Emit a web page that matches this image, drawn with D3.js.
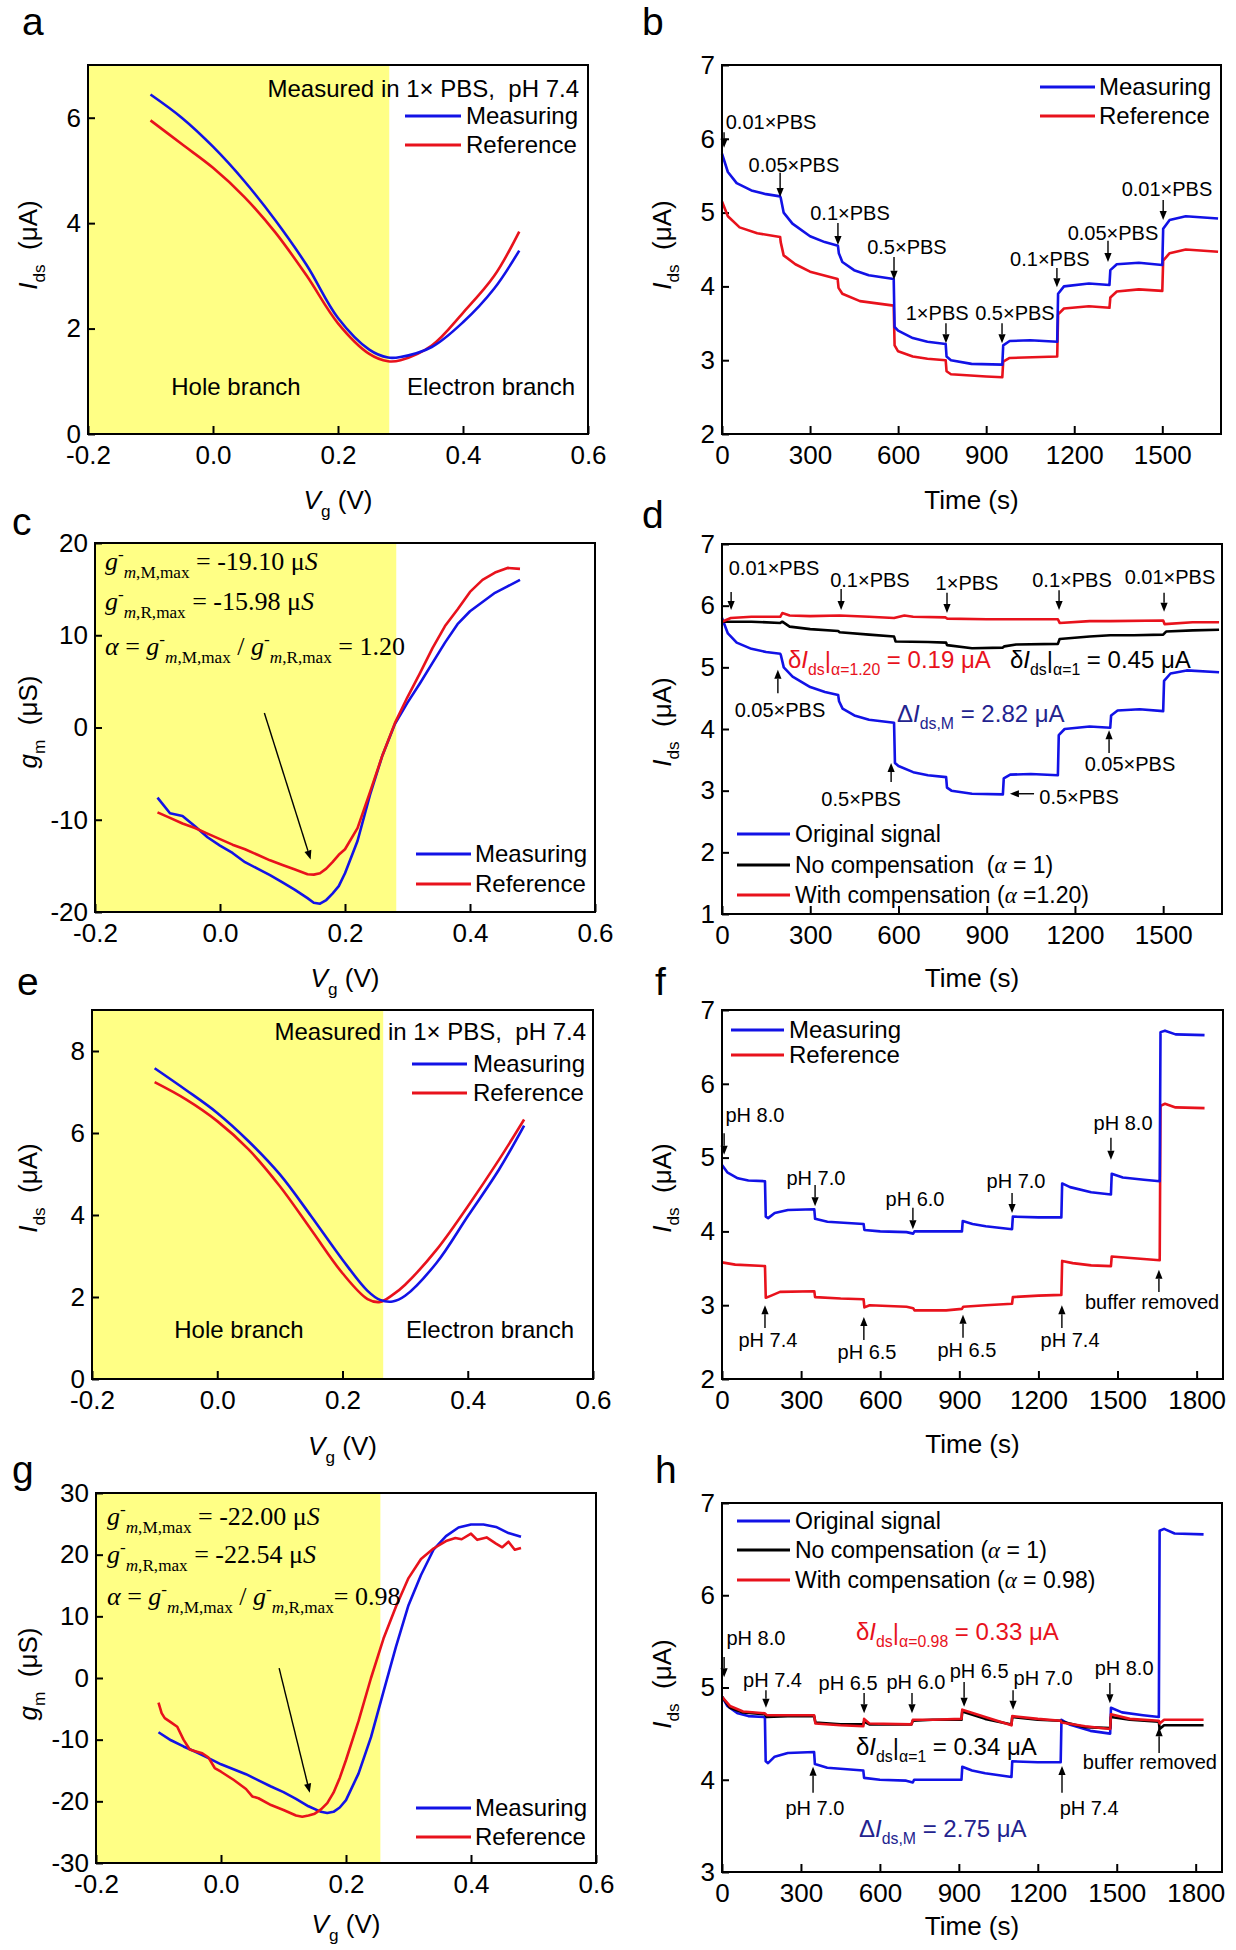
<!DOCTYPE html>
<html><head><meta charset="utf-8">
<script src="https://cdn.jsdelivr.net/npm/d3@7"></script>
<style>body{margin:0;background:#fff} svg{display:block} text{white-space:pre}</style>
</head><body><svg id="fig" width="1236" height="1950"></svg>
<script>
// ---------------- DATA ----------------
// Panel a: transfer curves (Vg in V, Ids in uA)
const aVg   = [-0.10,-0.05,0.00,0.05,0.10,0.15,0.20,0.25,0.28,0.30,0.35,0.40,0.45,0.49];
const aMeas = [6.44,6.00,5.45,4.80,4.05,3.20,2.20,1.60,1.45,1.46,1.65,2.12,2.76,3.48];
const aRef  = [5.95,5.50,5.05,4.50,3.82,3.00,2.10,1.52,1.38,1.40,1.68,2.30,3.00,3.84];

// Panel b: time traces (s, uA)
const bTimeM = [0,20,50,100,150,198,200,210,240,300,350,395,398,410,450,500,585,588,600,650,700,762,765,780,850,955,958,980,1050,1142,1145,1165,1250,1320,1323,1345,1420,1500,1503,1525,1580,1690];
const bMeas  = [5.80,5.55,5.40,5.30,5.25,5.22,5.20,5.00,4.85,4.68,4.60,4.55,4.45,4.33,4.22,4.15,4.10,3.45,3.40,3.30,3.25,3.22,3.05,3.00,2.95,2.94,3.20,3.26,3.27,3.25,3.90,4.00,4.04,4.02,4.22,4.30,4.32,4.29,4.78,4.90,4.95,4.92];
const bTimeR = [0,20,60,120,198,200,210,250,300,394,397,410,470,585,588,600,650,700,762,765,780,900,955,958,980,1142,1145,1165,1250,1320,1323,1345,1420,1500,1503,1525,1580,1690];
const bRef   = [5.15,4.95,4.80,4.72,4.67,4.60,4.42,4.30,4.20,4.10,3.98,3.90,3.80,3.74,3.20,3.12,3.05,3.02,3.00,2.85,2.81,2.78,2.77,2.98,3.03,3.05,3.62,3.70,3.73,3.71,3.85,3.93,3.96,3.94,4.35,4.45,4.50,4.47];

// Panel c: transconductance (Vg, gm in uS)
const cVg   = [-0.10,-0.08,-0.06,-0.04,-0.02,0.00,0.02,0.04,0.06,0.08,0.10,0.12,0.14,0.15,0.16,0.17,0.18,0.19,0.20,0.22,0.24,0.26,0.28,0.30,0.32,0.34,0.36,0.38,0.40,0.42,0.44,0.46,0.48];
const cMeas = [-7.6,-9.3,-9.6,-10.7,-11.9,-12.8,-13.6,-14.6,-15.3,-16.0,-16.8,-17.6,-18.5,-19.0,-19.1,-18.7,-18.0,-17.2,-15.8,-12.3,-7.3,-3.0,0.4,2.7,4.8,7.0,9.2,11.2,12.6,13.6,14.6,15.3,16.0];
const cRef  = [-9.2,-9.8,-10.4,-10.9,-11.5,-12.1,-12.7,-13.2,-13.8,-14.4,-14.9,-15.4,-15.9,-15.95,-15.8,-15.3,-14.6,-13.8,-13.2,-10.9,-7.0,-3.0,0.5,3.3,5.9,8.6,11.0,12.8,14.7,16.0,16.8,17.3,17.2];

// Panel d: compensation (s, uA)
const dTimeK  = [0,100,198,205,230,300,395,400,500,585,590,700,762,765,850,955,960,1000,1142,1148,1250,1320,1400,1500,1510,1600,1690];
const dNoComp = [5.74,5.74,5.72,5.74,5.66,5.62,5.59,5.57,5.53,5.50,5.42,5.41,5.40,5.36,5.31,5.32,5.34,5.37,5.38,5.46,5.50,5.52,5.52,5.53,5.58,5.60,5.61];
const dTimeC  = [0,30,100,198,205,230,300,400,500,585,620,650,760,765,900,1000,1142,1148,1250,1320,1500,1505,1600,1690];
const dComp   = [5.74,5.80,5.82,5.82,5.88,5.84,5.83,5.84,5.82,5.80,5.84,5.82,5.81,5.79,5.78,5.78,5.78,5.72,5.75,5.75,5.76,5.70,5.73,5.73];

// Panel e: transfer curves (second device)
const eVg   = [-0.10,-0.05,0.00,0.05,0.10,0.15,0.20,0.24,0.26,0.28,0.30,0.35,0.40,0.45,0.49];
const eMeas = [7.58,7.05,6.49,5.80,4.99,3.97,2.91,2.15,1.93,1.89,2.03,2.83,3.97,5.11,6.18];
const eRef  = [7.24,6.82,6.29,5.60,4.70,3.64,2.58,1.95,1.88,2.05,2.30,3.15,4.21,5.35,6.33];

// Panel f: pH time traces
const fTimeM = [0,20,60,100,163,166,175,200,250,350,353,400,537,540,600,700,725,730,910,913,950,1000,1100,1103,1200,1287,1290,1320,1400,1475,1478,1520,1600,1660,1663,1680,1720,1830];
const fMeas  = [4.90,4.80,4.72,4.69,4.68,4.20,4.18,4.25,4.29,4.30,4.17,4.13,4.10,4.02,4.00,3.99,3.97,4.00,4.00,4.14,4.10,4.07,4.03,4.20,4.19,4.19,4.65,4.60,4.53,4.50,4.78,4.73,4.70,4.68,6.70,6.72,6.67,6.66];
const fTimeR = [0,50,163,166,180,220,350,353,450,537,540,560,700,725,730,850,910,915,1000,1100,1103,1200,1287,1290,1330,1400,1475,1478,1550,1660,1663,1680,1720,1830];
const fRef   = [3.58,3.55,3.53,3.10,3.12,3.18,3.19,3.11,3.09,3.08,2.97,3.00,2.98,2.96,2.93,2.93,2.95,2.98,3.00,3.02,3.11,3.13,3.14,3.60,3.57,3.54,3.53,3.66,3.64,3.61,5.70,5.73,5.68,5.67];

// Panel g: transconductance (second device)
const gVg    = [-0.10,-0.08,-0.06,-0.04,-0.02,0.00,0.02,0.04,0.06,0.08,0.10,0.12,0.14,0.16,0.17,0.18,0.19,0.20,0.22,0.24,0.26,0.28,0.30,0.32,0.34,0.36,0.38,0.40,0.42,0.44,0.46,0.48];
const gMeas  = [-8.8,-10.1,-11.1,-12.0,-13.0,-14.0,-14.8,-15.6,-16.6,-17.6,-18.5,-19.6,-20.8,-21.7,-21.9,-21.7,-21.0,-19.8,-15.5,-9.6,-2.2,5.1,11.8,16.7,20.8,23.0,24.4,24.9,24.9,24.5,23.5,22.9];
const gRefVg = [-0.100,-0.095,-0.090,-0.080,-0.070,-0.060,-0.050,-0.040,-0.030,-0.020,-0.010,0.000,0.020,0.040,0.050,0.060,0.080,0.100,0.120,0.130,0.140,0.150,0.160,0.170,0.180,0.190,0.200,0.220,0.240,0.260,0.280,0.300,0.320,0.340,0.360,0.375,0.385,0.400,0.410,0.425,0.440,0.450,0.460,0.470,0.480];
const gRef   = [-4.0,-5.7,-6.5,-7.2,-7.9,-10.0,-11.6,-11.9,-12.2,-12.9,-14.6,-15.2,-16.5,-18.0,-19.2,-19.5,-20.6,-21.4,-22.3,-22.5,-22.3,-22.0,-21.3,-20.3,-18.6,-16.2,-13.3,-7.0,0.0,6.4,11.6,16.2,19.3,21.0,22.2,22.7,22.5,23.4,22.4,22.8,21.8,21.2,22.1,20.8,21.1];

// Panel h: pH compensation (same time base for both compensated traces)
const hTime   = [0,30,80,163,170,250,350,355,450,537,540,560,720,725,800,910,913,1000,1100,1103,1200,1287,1290,1380,1475,1478,1550,1660,1663,1680,1830];
const hNoComp = [4.90,4.78,4.73,4.71,4.68,4.69,4.69,4.62,4.60,4.60,4.63,4.60,4.60,4.64,4.65,4.65,4.74,4.66,4.60,4.68,4.65,4.64,4.63,4.57,4.56,4.68,4.65,4.63,4.55,4.59,4.59];
const hComp   = [4.90,4.80,4.74,4.72,4.70,4.70,4.70,4.61,4.59,4.58,4.66,4.61,4.60,4.65,4.65,4.66,4.76,4.68,4.59,4.69,4.66,4.64,4.62,4.58,4.55,4.71,4.66,4.64,4.61,4.65,4.65];

// Tick values
const vgTicks = [-0.2,0.0,0.2,0.4,0.6];
const t1500Ticks = [0,300,600,900,1200,1500];
const t1800Ticks = [0,300,600,900,1200,1500,1800];

// Annotation labels: [text, labelT, labelI, arrowT, arrowFromI, arrowToI]
const bNotes = [["0.01×PBS",167,6.23,7,6.09,5.88],["0.05×PBS",245,5.64,198,5.54,5.21],["0.1×PBS",436,4.99,395,4.86,4.56],
  ["0.5×PBS",630,4.53,586,4.40,4.09],["1×PBS",733,3.64,763,3.50,3.23],["0.5×PBS",998,3.64,954,3.50,3.23],
  ["0.1×PBS",1117,4.37,1141,4.25,3.99],["0.05×PBS",1332,4.72,1315,4.62,4.33],["0.01×PBS",1516,5.32,1503,5.17,4.90]];
const dNotes = [["0.01×PBS",177,6.61,31,6.22,5.93],["0.1×PBS",503,6.42,405,6.27,5.93],["1×PBS",833,6.37,765,6.21,5.88],
  ["0.1×PBS",1190,6.42,1146,6.25,5.93],["0.01×PBS",1523,6.46,1503,6.21,5.90],["0.05×PBS",197,4.31,190,4.58,4.96],
  ["0.5×PBS",473,2.87,575,3.14,3.45],["0.05×PBS",1387,3.43,1316,3.61,3.98]];
const fNotes = [["pH 8.0",125,5.58,8,5.33,5.04],["pH 7.0",356,4.72,353,4.63,4.34],["pH 6.0",732,4.44,724,4.32,4.03],
  ["pH 7.0",1115,4.68,1100,4.52,4.25],["pH 8.0",1521,5.47,1475,5.27,4.97],["pH 7.4",174,2.53,163,2.69,3.00],
  ["pH 6.5",550,2.37,538,2.53,2.84],["pH 6.5",929,2.39,914,2.56,2.87],["pH 7.4",1320,2.53,1289,2.69,3.00],
  ["buffer removed",1631,3.04,1657,3.18,3.48]];
const hNotes = [["pH 8.0",129,5.54,8,5.33,5.11],["pH 7.4",192,5.08,167,4.97,4.78],["pH 6.5",479,5.05,540,4.94,4.72],
  ["pH 6.0",737,5.06,722,4.94,4.72],["pH 6.5",977,5.18,920,5.06,4.79],["pH 7.0",1220,5.10,1106,4.97,4.76],
  ["pH 8.0",1528,5.21,1474,5.05,4.83],["pH 7.0",353,3.69,346,3.86,4.14],["pH 7.4",1395,3.69,1292,3.86,4.15],
  ["buffer removed",1626,4.19,1661,4.29,4.57]];

// ---------------- DRAWING ----------------
const SANS = "'Liberation Sans', Arial, Helvetica, sans-serif";
const SERIF = "'Liberation Serif', 'Times New Roman', serif";
const BLUE = "#1212e6", RED = "#e8121c", BLACK = "#000", NAVY = "#23238f", YEL = "#ffff85";

const svg = d3.select("#fig");
svg.append("rect").attr("width",1236).attr("height",1950).attr("fill","#fff");
const loc = d3.formatLocale({decimal:".", thousands:",", grouping:[3], currency:["",""], minus:"-"});
const f1 = loc.format(".1f"), f0 = loc.format("d");

function rich(t, segs, base) {
  let shift = 0;
  segs.forEach(s => {
    const target = s.sub ? base*0.3 : (s.sup ? -base*0.38 : 0);
    const ts = t.append("tspan").text(s.t)
      .attr("dy", (target - shift).toFixed(1))
      .style("font-size", ((s.sub||s.sup) ? base*0.66 : base) + "px");
    if (s.i) ts.style("font-style","italic");
    if (s.f) ts.style("font-family", s.f);
    shift = target;
  });
  return t;
}
function addText(parent, x, y, segs, base, opts={}) {
  const t = parent.append("text").attr("x",x).attr("y",y)
    .style("font-family", opts.family||SANS).style("font-size", base+"px")
    .attr("fill", opts.color||"#000").attr("text-anchor", opts.anchor||"start");
  if (opts.transform) t.attr("transform", opts.transform);
  if (opts.central) t.attr("dominant-baseline","central");
  if (typeof segs === "string") t.text(segs); else rich(t, segs, base);
  return t;
}
function arrow(g, x1, y1, x2, y2) {
  const a = Math.atan2(y2-y1, x2-x1), len = 9, w = 3.6;
  const bx = x2 - len*Math.cos(a), by = y2 - len*Math.sin(a);
  const px = -Math.sin(a)*w, py = Math.cos(a)*w;
  g.append("line").attr("x1",x1).attr("y1",y1).attr("x2",bx).attr("y2",by).attr("stroke","#000").attr("stroke-width",1.4);
  g.append("path").attr("d",`M${x2},${y2}L${bx+px},${by+py}L${bx-px},${by-py}Z`).attr("fill","#000");
}

function panel(o) {
  const g = svg.append("g");
  const x = d3.scaleLinear().domain(o.xDomain).range([o.L,o.R]);
  const y = d3.scaleLinear().domain(o.yDomain).range([o.B,o.T]);
  if (o.shade != null) g.append("rect").attr("x",o.L).attr("y",o.T)
      .attr("width",x(o.shade)-o.L).attr("height",o.B-o.T).attr("fill",YEL);
  const ax = g.append("g").attr("transform",`translate(0,${o.B})`)
    .call(d3.axisBottom(x).tickValues(o.xTicks).tickFormat(o.xFmt).tickSize(-8).tickPadding(12));
  const ay = g.append("g").attr("transform",`translate(${o.L},0)`)
    .call(d3.axisLeft(y).tickValues(o.yTicks).tickFormat(o.yFmt||f0).tickSize(-7).tickPadding(7));
  [ax,ay].forEach(a => {
    a.select(".domain").remove();
    a.attr("font-size",null).attr("font-family",null);
    a.selectAll("text").style("font-size","26px").style("font-family",SANS).attr("fill","#000");
    a.selectAll("line").attr("stroke","#000").attr("stroke-width",2);
  });
  const pg = g.append("g");
  o.series.forEach(s => {
    const pts = s.x.map((v,i) => [v, s.y[i]]);
    pg.append("path").datum(pts)
      .attr("d", d3.line().x(d=>x(d[0])).y(d=>y(d[1])).curve(s.curve||d3.curveLinear))
      .attr("fill","none").attr("stroke",s.color).attr("stroke-width",2.6).attr("stroke-linejoin","round");
  });
  g.append("rect").attr("x",o.L).attr("y",o.T).attr("width",o.R-o.L).attr("height",o.B-o.T)
    .attr("fill","none").attr("stroke","#000").attr("stroke-width",2);
  addText(svg, o.letter[1], o.letter[2], o.letter[0], 39);
  addText(svg, 0, 9, o.yLabel, 26, {anchor:"middle", transform:`translate(${o.yLabelPos[0]},${o.yLabelPos[1]}) rotate(-90)`});
  addText(svg, (o.L+o.R)/2, o.xLabelY, o.xLabel, 26, {anchor:"middle"});
  return {g, x, y, o};
}
function legend(p, items, lx1, lx2, tx, ys, size) {
  items.forEach((it, i) => {
    const yy = p.o.T + ys[i];
    p.g.append("line").attr("x1",p.o.L+lx1).attr("x2",p.o.L+lx2).attr("y1",yy).attr("y2",yy)
      .attr("stroke",it.color).attr("stroke-width",3.2);
    addText(p.g, p.o.L+tx, yy+8, it.segs, size||24);
  });
}
function notes(p, list) {
  list.forEach(n => {
    addText(p.g, p.x(n[1]), p.y(n[2]), n[0], 20, {anchor:"middle", central:true});
    arrow(p.g, p.x(n[3]), p.y(n[4]), p.x(n[3]), p.y(n[5]));
  });
}
const IdsLbl = [{t:"I",i:1},{t:"ds",sub:1},{t:"  (μA)"}];
const gmLbl = [{t:"g",i:1},{t:"m",sub:1},{t:"  (μS)"}];
const VgLbl = [{t:"V",i:1},{t:"g",sub:1},{t:" (V)"}];
const TimeLbl = "Time (s)";
const gMax = (k) => [{t:"g",i:1},{t:"-",sup:1},{t:"m",sub:1,i:1},{t:","+k+",max",sub:1}];

// ---- a ----
const pa = panel({L:88,R:588,T:65,B:434, xDomain:[-0.2,0.6], yDomain:[0,7], xTicks:vgTicks, xFmt:f1, yTicks:[0,2,4,6],
  shade:0.282, series:[{x:aVg,y:aRef,color:RED,curve:d3.curveCatmullRom},{x:aVg,y:aMeas,color:BLUE,curve:d3.curveCatmullRom}],
  letter:["a",22,35], yLabel:IdsLbl, yLabelPos:[28,245], xLabel:VgLbl, xLabelY:509});
addText(pa.g, pa.o.L+491, pa.o.T+32, "Measured in 1× PBS,  pH 7.4", 24, {anchor:"end"});
legend(pa, [{color:BLUE,segs:"Measuring"},{color:RED,segs:"Reference"}], 317, 373, 378, [51,80]);
addText(pa.g, pa.o.L+148, pa.o.T+330, "Hole branch", 24, {anchor:"middle"});
addText(pa.g, pa.o.L+403, pa.o.T+330, "Electron branch", 24, {anchor:"middle"});

// ---- b ----
const pb = panel({L:722,R:1221,T:65,B:434, xDomain:[0,1700], yDomain:[2,7], xTicks:t1500Ticks, xFmt:f0, yTicks:[2,3,4,5,6,7],
  series:[{x:bTimeR,y:bRef,color:RED},{x:bTimeM,y:bMeas,color:BLUE}],
  letter:["b",642,35], yLabel:IdsLbl, yLabelPos:[662,245], xLabel:TimeLbl, xLabelY:509});
legend(pb, [{color:BLUE,segs:"Measuring"},{color:RED,segs:"Reference"}], 318, 373, 377, [22,51]);
notes(pb, bNotes);

// ---- c ----
const pc = panel({L:95,R:595,T:543,B:912, xDomain:[-0.2,0.6], yDomain:[-20,20], xTicks:vgTicks, xFmt:f1, yTicks:[-20,-10,0,10,20],
  shade:0.282, series:[{x:cVg,y:cMeas,color:BLUE},{x:cVg,y:cRef,color:RED}],
  letter:["c",12,535], yLabel:gmLbl, yLabelPos:[28,722], xLabel:VgLbl, xLabelY:987});
addText(pc.g, pc.o.L+10, pc.o.T+27, [...gMax("M"),{t:" = -19.10 μ"},{t:"S",i:1}], 26, {family:SERIF});
addText(pc.g, pc.o.L+10, pc.o.T+67, [...gMax("R"),{t:" = -15.98 μ"},{t:"S",i:1}], 26, {family:SERIF});
addText(pc.g, pc.o.L+10, pc.o.T+112, [{t:"α",i:1},{t:" = "},...gMax("M"),{t:" / "},...gMax("R"),{t:" = 1.20"}], 26, {family:SERIF});
arrow(pc.g, pc.x(0.071), pc.y(1.57), pc.x(0.145), pc.y(-14.3));
legend(pc, [{color:BLUE,segs:"Measuring"},{color:RED,segs:"Reference"}], 321, 376, 380, [311,341]);

// ---- d ----
const pd = panel({L:722,R:1222,T:544,B:914, xDomain:[0,1700], yDomain:[1,7], xTicks:t1500Ticks, xFmt:f0, yTicks:[1,2,3,4,5,6,7],
  series:[{x:bTimeM,y:bMeas,color:BLUE},{x:dTimeK,y:dNoComp,color:BLACK},{x:dTimeC,y:dComp,color:RED}],
  letter:["d",642,528], yLabel:IdsLbl, yLabelPos:[662,722], xLabel:TimeLbl, xLabelY:987});
notes(pd, dNotes);
addText(pd.g, pd.x(1214), pd.y(2.90), "0.5×PBS", 20, {anchor:"middle", central:true});
arrow(pd.g, pd.x(1061), pd.y(2.95), pd.x(979), pd.y(2.95));
addText(pd.g, pd.o.L+66, pd.o.T+124, [{t:"δ"},{t:"I",i:1},{t:"ds",sub:1},{t:"|"},{t:"α=1.20",sub:1},{t:" = 0.19 μA"}], 24, {color:RED});
addText(pd.g, pd.o.L+288, pd.o.T+124, [{t:"δ"},{t:"I",i:1},{t:"ds",sub:1},{t:"|"},{t:"α=1",sub:1},{t:" = 0.45 μA"}], 24);
addText(pd.g, pd.o.L+175, pd.o.T+178, [{t:"Δ"},{t:"I",i:1},{t:"ds,M",sub:1},{t:" = 2.82 μA"}], 24, {color:NAVY});
legend(pd, [{color:BLUE,segs:"Original signal"},
  {color:BLACK,segs:[{t:"No compensation  ("},{t:"α",i:1,f:SERIF},{t:" = 1)"}]},
  {color:RED,segs:[{t:"With compensation ("},{t:"α",i:1,f:SERIF},{t:" =1.20)"}]}], 15, 68, 73, [290,321,351], 23);

// ---- e ----
const pe = panel({L:92,R:593,T:1010,B:1379, xDomain:[-0.2,0.6], yDomain:[0,9], xTicks:vgTicks, xFmt:f1, yTicks:[0,2,4,6,8],
  shade:0.265, series:[{x:eVg,y:eRef,color:RED,curve:d3.curveCatmullRom},{x:eVg,y:eMeas,color:BLUE,curve:d3.curveCatmullRom}],
  letter:["e",17,995], yLabel:IdsLbl, yLabelPos:[28,1188], xLabel:VgLbl, xLabelY:1455});
addText(pe.g, pe.o.L+494, pe.o.T+30, "Measured in 1× PBS,  pH 7.4", 24, {anchor:"end"});
legend(pe, [{color:BLUE,segs:"Measuring"},{color:RED,segs:"Reference"}], 320, 375, 381, [54,83]);
addText(pe.g, pe.o.L+147, pe.o.T+328, "Hole branch", 24, {anchor:"middle"});
addText(pe.g, pe.o.L+398, pe.o.T+328, "Electron branch", 24, {anchor:"middle"});

// ---- f ----
const pf = panel({L:722,R:1223,T:1010,B:1379, xDomain:[0,1900], yDomain:[2,7], xTicks:t1800Ticks, xFmt:f0, yTicks:[2,3,4,5,6,7],
  series:[{x:fTimeR,y:fRef,color:RED},{x:fTimeM,y:fMeas,color:BLUE}],
  letter:["f",655,995], yLabel:IdsLbl, yLabelPos:[662,1188], xLabel:TimeLbl, xLabelY:1453});
legend(pf, [{color:BLUE,segs:"Measuring"},{color:RED,segs:"Reference"}], 9, 62, 67, [20,45]);
notes(pf, fNotes);

// ---- g ----
const pg7 = panel({L:96,R:596,T:1493,B:1863, xDomain:[-0.2,0.6], yDomain:[-30,30], xTicks:vgTicks, xFmt:f1, yTicks:[-30,-20,-10,0,10,20,30],
  shade:0.255, series:[{x:gVg,y:gMeas,color:BLUE},{x:gRefVg,y:gRef,color:RED}],
  letter:["g",12,1483], yLabel:gmLbl, yLabelPos:[28,1674], xLabel:VgLbl, xLabelY:1933});
addText(pg7.g, pg7.o.L+11, pg7.o.T+32, [...gMax("M"),{t:" = -22.00 μ"},{t:"S",i:1}], 26, {family:SERIF});
addText(pg7.g, pg7.o.L+11, pg7.o.T+70, [...gMax("R"),{t:" = -22.54 μ"},{t:"S",i:1}], 26, {family:SERIF});
addText(pg7.g, pg7.o.L+11, pg7.o.T+112, [{t:"α",i:1},{t:" = "},...gMax("M"),{t:" / "},...gMax("R"),{t:"= 0.98"}], 26, {family:SERIF});
arrow(pg7.g, pg7.x(0.093), pg7.y(1.6), pg7.x(0.142), pg7.y(-18.6));
legend(pg7, [{color:BLUE,segs:"Measuring"},{color:RED,segs:"Reference"}], 320, 375, 379, [315,344]);

// ---- h ----
const ph = panel({L:722,R:1222,T:1503,B:1872, xDomain:[0,1900], yDomain:[3,7], xTicks:t1800Ticks, xFmt:f0, yTicks:[3,4,5,6,7],
  series:[{x:fTimeM,y:fMeas,color:BLUE},{x:hTime,y:hNoComp,color:BLACK},{x:hTime,y:hComp,color:RED}],
  letter:["h",655,1483], yLabel:IdsLbl, yLabelPos:[662,1684], xLabel:TimeLbl, xLabelY:1935});
notes(ph, hNotes);
addText(ph.g, ph.o.L+134, ph.o.T+137, [{t:"δ"},{t:"I",i:1},{t:"ds",sub:1},{t:"|"},{t:"α=0.98",sub:1},{t:" = 0.33 μA"}], 24, {color:RED});
addText(ph.g, ph.o.L+134, ph.o.T+252, [{t:"δ"},{t:"I",i:1},{t:"ds",sub:1},{t:"|"},{t:"α=1",sub:1},{t:" = 0.34 μA"}], 24);
addText(ph.g, ph.o.L+137, ph.o.T+334, [{t:"Δ"},{t:"I",i:1},{t:"ds,M",sub:1},{t:" = 2.75 μA"}], 24, {color:NAVY});
legend(ph, [{color:BLUE,segs:"Original signal"},
  {color:BLACK,segs:[{t:"No compensation ("},{t:"α",i:1,f:SERIF},{t:" = 1)"}]},
  {color:RED,segs:[{t:"With compensation ("},{t:"α",i:1,f:SERIF},{t:" = 0.98)"}]}], 15, 68, 73, [18,47,77], 23);
</script></body></html>
